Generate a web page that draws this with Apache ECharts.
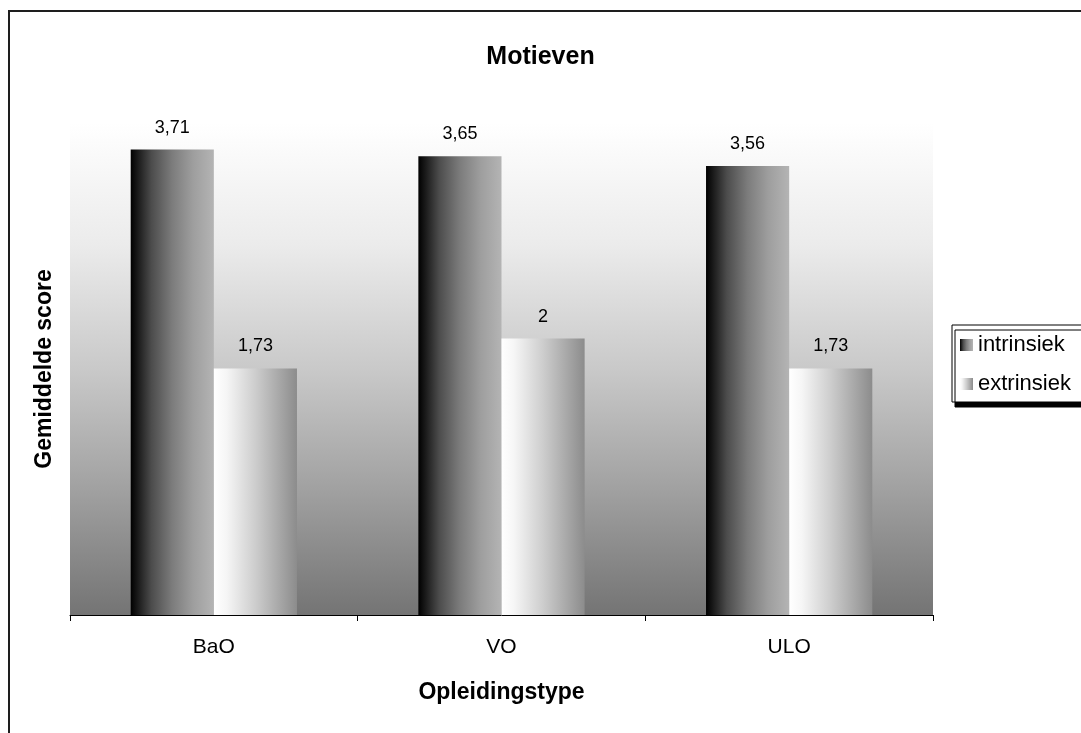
<!DOCTYPE html>
<html>
<head>
<meta charset="utf-8">
<title>Motieven</title>
<script src="https://cdn.jsdelivr.net/npm/echarts@6/dist/echarts.min.js"></script>
<style>
  html, body { margin: 0; padding: 0; background: #ffffff; }
  #chart { width: 1081px; height: 733px; }
</style>
</head>
<body>
<div id="chart"></div>
<script>
// Category and series values
const categories = ['BaO', 'VO', 'ULO'];
const intrinsiek = [3.71, 3.65, 3.56];
const extrinsiek = [1.73, 2, 1.73];
const seriesNames = ['intrinsiek', 'extrinsiek'];

// Value axis range (axis itself is hidden)
const Y_MIN = -0.5;
const Y_MAX = 3.95;

const FONT = '"Liberation Sans", Arial, sans-serif';

const chart = echarts.init(document.getElementById('chart'), null, { renderer: 'canvas' });

const gradIntr = new echarts.graphic.LinearGradient(0, 0, 1, 0, [
  { offset: 0, color: '#000000' },
  { offset: 0.25, color: '#4c4c4c' },
  { offset: 0.5, color: '#7c7c7c' },
  { offset: 0.75, color: '#9e9e9e' },
  { offset: 1, color: '#b4b4b4' }
]);
const gradExtr = new echarts.graphic.LinearGradient(0, 0, 1, 0, [
  { offset: 0, color: '#ffffff' },
  { offset: 0.15, color: '#f6f6f6' },
  { offset: 0.5, color: '#cdcdcd' },
  { offset: 1, color: '#8c8c8c' }
]);

const BAR_FRACTION = 0.289; // width of one bar relative to category band

function fmt(v) {
  return String(v).replace('.', ',');
}

// Bars drawn from the bottom of the plot up to each value
function makeRender(side, fill) {
  return function (params, api) {
    const idx = api.value(0);
    const val = api.value(1);
    const top = api.coord([idx, val]);
    const bottom = api.coord([idx, Y_MIN]);
    const band = api.size([1, 0])[0];
    const w = band * BAR_FRACTION;
    const x = side < 0 ? top[0] - w : top[0];
    return {
      type: 'group',
      children: [
        {
          type: 'rect',
          shape: { x: x, y: top[1], width: w, height: bottom[1] - top[1] },
          style: { fill: fill }
        },
        {
          type: 'text',
          x: x + w / 2,
          y: top[1] - 13,
          style: {
            text: fmt(val),
            fill: '#000000',
            font: '18px ' + FONT,
            textAlign: 'center',
            textVerticalAlign: 'bottom'
          }
        }
      ]
    };
  };
}

const option = {
  backgroundColor: '#ffffff',
  animation: false,
  title: {
    text: 'Motieven',
    left: 'center',
    top: 40,
    textStyle: { fontFamily: FONT, fontSize: 25, fontWeight: 'bold', color: '#000000' }
  },
  graphic: [
    {
      type: 'rect',
      shape: { x: 9, y: 11, width: 1200, height: 1000 },
      style: { fill: 'none', stroke: '#1e1e1e', lineWidth: 2 },
      silent: true
    }
  ],
  legend: {
    orient: 'vertical',
    left: 952,
    top: 325,
    padding: [9, 70, 7, 8],
    itemGap: 17,
    itemWidth: 13,
    itemHeight: 12,
    icon: 'rect',
    backgroundColor: '#ffffff',
    borderColor: '#000000',
    borderWidth: 1,
    borderRadius: 0,
    shadowColor: '#000000',
    shadowBlur: 0,
    shadowOffsetX: 3,
    shadowOffsetY: 5,
    textStyle: { fontFamily: FONT, fontSize: 22, color: '#000000' },
    data: seriesNames
  },
  grid: {
    left: 70,
    right: 148,
    top: 123,
    bottom: 118,
    show: true,
    borderWidth: 0,
    backgroundColor: new echarts.graphic.LinearGradient(0, 0, 0, 1, [
      { offset: 0, color: '#ffffff' },
      { offset: 0.25, color: '#ebebeb' },
      { offset: 0.5, color: '#c9c9c9' },
      { offset: 0.75, color: '#a0a0a0' },
      { offset: 1, color: '#747474' }
    ])
  },
  xAxis: {
    type: 'category',
    data: categories,
    boundaryGap: true,
    axisLine: { show: true, onZero: false, lineStyle: { color: '#000000', width: 1 } },
    axisTick: { show: true, length: 6, interval: 0, lineStyle: { color: '#000000' } },
    axisLabel: { margin: 22, fontFamily: FONT, fontSize: 21, color: '#000000' },
    name: 'Opleidingstype',
    nameLocation: 'middle',
    nameGap: 66,
    nameTextStyle: { fontFamily: FONT, fontSize: 23, fontWeight: 'bold', color: '#000000' }
  },
  yAxis: {
    type: 'value',
    min: Y_MIN,
    max: Y_MAX,
    axisLine: { show: false },
    axisTick: { show: false },
    axisLabel: { show: false },
    splitLine: { show: false },
    name: 'Gemiddelde score',
    nameLocation: 'middle',
    nameGap: 14,
    nameTextStyle: { fontFamily: FONT, fontSize: 23, fontWeight: 'bold', color: '#000000' }
  },
  series: [
    {
      name: seriesNames[0],
      type: 'custom',
      itemStyle: { color: gradIntr },
      encode: { x: 0, y: 1 },
      data: intrinsiek.map((v, i) => [i, v]),
      renderItem: makeRender(-1, gradIntr)
    },
    {
      name: seriesNames[1],
      type: 'custom',
      itemStyle: { color: gradExtr },
      encode: { x: 0, y: 1 },
      data: extrinsiek.map((v, i) => [i, v]),
      renderItem: makeRender(1, gradExtr)
    }
  ]
};

chart.setOption(option);
</script>
</body>
</html>
